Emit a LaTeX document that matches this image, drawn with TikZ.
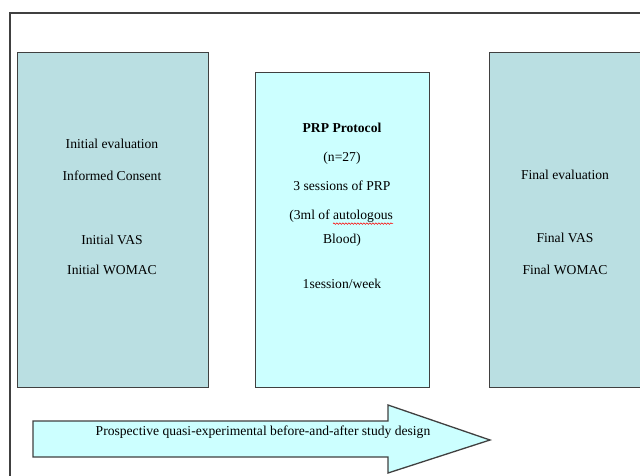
\documentclass[tikz,border=0pt]{standalone}
\usepackage{fontspec}
\setmainfont{Liberation Serif}
\usetikzlibrary{positioning, decorations.pathmorphing}
\definecolor{evalc}{HTML}{BADFE2}
\definecolor{protoc}{HTML}{CCFFFF}
\definecolor{edge}{HTML}{404040}

\begin{document}
\begin{tikzpicture}[x=1pt, y=-1pt,
    evalbox/.style={draw=edge, line width=1.3pt, fill=evalc, anchor=north west, inner sep=0pt},
    protobox/.style={draw=edge, line width=1.3pt, fill=protoc, anchor=north west, inner sep=0pt},
    txt/.style={inner sep=0pt, font=\fontsize{13.6}{15}\selectfont}]

			\useasboundingbox (0,0) rectangle (640,476);
			\clip (0,0) rectangle (640,476);

			% frame
			\draw[edge, line width=1.3pt] (10,500) -- (10,13) -- (660,13);

			\node[evalbox, minimum width=191pt, minimum height=335pt] (initbox) at (17,52) {};
			\node[protobox, minimum width=174pt, minimum height=315pt] (protbox) at (255,72) {};
			\node[evalbox, minimum width=160pt, minimum height=335pt] (finbox) at (489,52) {};

			\node[txt] (i1) at (112,144) {Initial evaluation};
			\node[txt] (i2) at (112,176) {Informed Consent};
			\node[txt] (i3) at (112,240) {Initial VAS};
			\node[txt] (i4) at (112,270) {Initial WOMAC};

			\node[txt] (p1) at (342,128) {\textbf{PRP Protocol}};
			\node[txt] (p2) at (342,158) {(n=27)};
			\node[txt] (p3) at (342,186) {3 sessions of PRP};
			\node[txt, anchor=base east] (p4a) at (330,219) {(3ml of};
			\node[txt, right=3pt of p4a.base east, anchor=base west] (p4b) {autologous};
			\node[txt] (p5) at (342,240) {Blood)};
			\node[txt] (p6) at (342,284) {1session/week};

			\draw[red, line width=0.5pt, decorate, decoration={snake, amplitude=0.8pt, segment length=3pt}]
				([yshift=-1.5pt]p4b.south west) -- ([yshift=-1.5pt]p4b.south east);

			\node[txt] (f1) at (565,175) {Final evaluation};
			\node[txt] (f2) at (565,238) {Final VAS};
			\node[txt] (f3) at (565,270) {Final WOMAC};

			% study design arrow
			\draw[edge, line width=1.3pt, fill=protoc, line join=miter]
				(33,421) -- (388,421) -- (388,405) -- (490,440) -- (388,473) -- (388,457) -- (33,457) -- cycle;
			\node[txt] (design) at (263,432) {Prospective quasi-experimental before-and-after study design};

		\end{tikzpicture}
\end{document}
